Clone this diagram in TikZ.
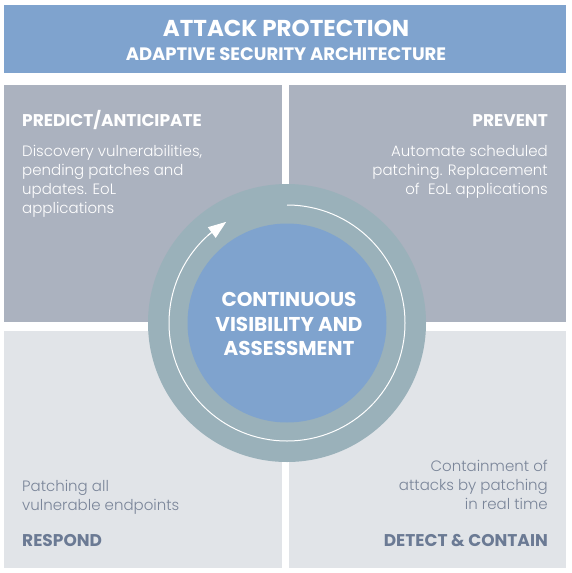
\documentclass[tikz,border=0pt]{standalone}
\usepackage{fontspec}
\setmainfont{Poppins}
\newfontfamily\lightfont{Poppins Light}
\usetikzlibrary{arrows.meta}
\definecolor{hdrblue}{HTML}{7FA3CE}
\definecolor{topgray}{HTML}{ABB2BF}
\definecolor{botgray}{HTML}{E1E4E8}
\definecolor{ringcol}{HTML}{9AB1BA}
\definecolor{dtext}{HTML}{7A8599}
\definecolor{dtitle}{HTML}{6B7A94}
\tikzset{
  ttl/.style={font=\fontsize{17}{20}\selectfont\bfseries, inner sep=0pt},
  body/.style={font=\lightfont\fontsize{15}{19}\selectfont, inner sep=0pt},
}
\begin{document}
\begin{tikzpicture}[x=1pt,y=-1pt]
\useasboundingbox (0,0) rectangle (571,573);
\fill[white] (0,0) rectangle (571,573);
% header
\fill[hdrblue] (4,5) rectangle (566,73);
\node[font=\fontsize{23}{26}\selectfont\bfseries, text=white, inner sep=0pt] (h1) at (286,28) {ATTACK PROTECTION};
\node[font=\fontsize{18}{20}\selectfont\bfseries, text=white, inner sep=0pt] (h2) at (286,54) {ADAPTIVE SECURITY ARCHITECTURE};
% quadrants
\fill[topgray] (4,85) rectangle (282,322);
\fill[topgray] (289,85) rectangle (566,322);
\fill[botgray] (4,331) rectangle (282,568);
\fill[botgray] (289,331) rectangle (566,568);
% circle
\coordinate (c) at (287,323);
\fill[ringcol] (c) circle (139);
\fill[hdrblue] (c) circle (99.5);
\draw[white, line width=1pt] ([shift={(-90:118)}]c) arc[start angle=-90, end angle=232, radius=118];
\coordinate (ab) at ([shift={(228:118)}]c);
\coordinate (at) at ([shift={(239:118)}]c);
\draw[white, line width=1pt, -{Triangle[length=18pt,width=13pt]}] (ab) -- (at);
\node[text=white, align=center, font=\fontsize{20}{24.5}\selectfont\bfseries, inner sep=0pt] (ctr) at (289,324) {CONTINUOUS\\VISIBILITY AND\\ASSESSMENT};
% top-left
\node[ttl, text=white, anchor=base west] (t1) at (22,126) {PREDICT/ANTICIPATE};
\node[body, text=white, anchor=north west, align=left] (b1) at (22,145) {Discovery vulnerabilities,\\pending patches and\\updates. EoL\\applications};
% top-right
\node[ttl, text=white, anchor=base east] (t2) at (548,126) {PREVENT};
\node[body, text=white, anchor=north east, align=right] (b2) at (548,145) {Automate scheduled\\patching. Replacement\\of~ EoL applications};
% bottom-left
\node[body, text=dtext, anchor=north west, align=left] (b3) at (22,480) {Patching all\\vulnerable endpoints};
\node[ttl, text=dtitle, anchor=base west] (t3) at (22,546) {RESPOND};
% bottom-right
\node[body, text=dtext, anchor=north east, align=right] (b4) at (548,460) {Containment of\\attacks by patching\\in real time};
\node[ttl, text=dtitle, anchor=base east] (t4) at (548,546) {DETECT \& CONTAIN};
\end{tikzpicture}
\end{document}
